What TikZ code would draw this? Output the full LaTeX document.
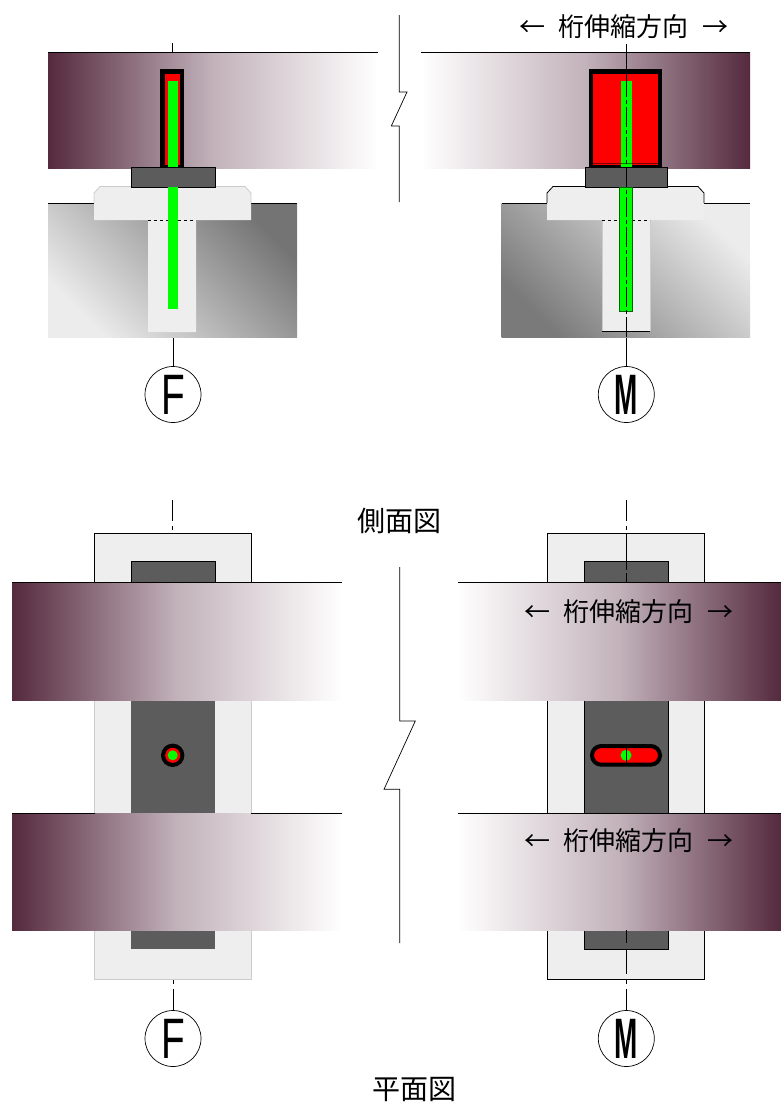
\documentclass[tikz,border=0pt]{standalone}
\usepackage{fontspec}
\setmainfont{Liberation Sans}
\newfontfamily\jpfont{Noto Sans CJK JP}
\usetikzlibrary{positioning}
\definecolor{girderdark}{HTML}{552A3E}
\definecolor{girdermid}{HTML}{C2B2BA}
\definecolor{plategray}{HTML}{5C5C5C}
\definecolor{padgray}{HTML}{EEEEEE}
\definecolor{boltgreen}{HTML}{00FF00}
\definecolor{pierdark}{HTML}{747474}
\definecolor{pierlight}{HTML}{ECECEC}
\tikzset{
  girderL/.style={left color=girderdark, right color=white, middle color=girdermid, draw=none},
  girderR/.style={left color=white, right color=girderdark, middle color=girdermid, draw=none},
  pier/.style={top color=pierdark, bottom color=pierlight, shading angle=-45, draw=none},
  pierM/.style={top color=pierlight, bottom color=pierdark!50!gray, shading angle=-45, draw=none},
  pad/.style={fill=padgray, draw=none},
  plate/.style={fill=plategray, draw=none},
  bolt/.style={fill=boltgreen, draw=none},
  hole/.style={fill=red, draw=black, line width=4.5pt},
  thin line/.style={draw=black, line width=0.8pt},
  faint line/.style={draw=black!20, line width=0.8pt},
  axis line/.style={draw=black, line width=0.7pt},
  center line/.style={draw=black, line width=0.7pt, dash pattern=on 20pt off 3pt on 4pt off 3pt},
  mark circle/.style={circle, draw=black, line width=0.7pt, minimum size=56pt, inner sep=0pt},
  dir label/.style={font=\jpfont\fontsize{26}{26}\selectfont, inner sep=0pt},
  view label/.style={font=\jpfont\fontsize{28}{28}\selectfont, inner sep=0pt},
}
\newcommand{\marktext}[2]{\scalebox{#1}[1]{\fontsize{57}{57}\selectfont #2}}
\newcommand{\dirtext}{←\hspace{14pt}桁伸縮方向\hspace{14pt}→}
\begin{document}
\begin{tikzpicture}[x=1pt,y=-1pt]
\useasboundingbox (0,0) rectangle (781,1104);

% side view, F
\fill[girderL] (48,52) rectangle (378,168);
\draw[thin line] (48,52) -- (378,52);
\fill[pier] (48,203) rectangle (297,337);
\draw[thin line] (48,203) -- (94,203) (251,203) -- (297,203);
\fill[pad] (94,193) -- (100,186.5) -- (245,186.5) -- (251,193) -- (251,220) -- (196,220) -- (196,332) -- (148,332) -- (148,220) -- (94,220) -- cycle;
\draw[faint line] (94,203) -- (94,193) -- (100,186.5) -- (245,186.5) -- (251,193) -- (251,203);
\draw[thin line, dashed] (148,220) -- (196,220);
\draw[hole] (162.3,71.3) rectangle (182,167);
\fill[bolt] (168,81) rectangle (178,309);
\draw[plate, draw=black, line width=0.6pt] (131,167) rectangle (215,187);
\fill[bolt] (168,187) rectangle (178,220);

% side view, M
\fill[girderR] (421,52) rectangle (750,168);
\draw[thin line] (421,52) -- (750,52);
\fill[pierM] (501.5,203) rectangle (750,337);
\draw[thin line] (501.5,203) -- (547,203) (704,203) -- (750,203);
\fill[pad] (547,193) -- (553,186.5) -- (698,186.5) -- (704,193) -- (704,220) -- (650,220) -- (650,331) -- (602,331) -- (602,220) -- (547,220) -- cycle;
\draw[thin line] (547,203) -- (547,193) -- (553,186.5) -- (698,186.5) -- (704,193) -- (704,203);
\draw[faint line] (602,220) -- (602,331) (650,331) -- (650,220);
\draw[thin line] (602,331) -- (650,331);
\draw[thin line, dashed] (602,220) -- (650,220);
\draw[hole] (591.2,71.3) rectangle (660.2,167);
\fill[bolt] (620.7,81) rectangle (632,167);
\draw[black, opacity=0.5, line width=1pt] (591,163) -- (660,163);
\draw[plate, draw=black, line width=0.6pt] (585,167) rectangle (667.5,187);
\draw[bolt, draw=black!60!boltgreen, line width=0.7pt] (619.5,187) rectangle (632.5,311);

% plan view, F
\fill[pad] (94.5,533) rectangle (251,979);
\draw[faint line] (94.5,582) -- (94.5,979) -- (251,979) -- (251,582);
\draw[plate, draw=black, line width=0.6pt] (131,561.5) rectangle (215,640);
\fill[plate] (131,640) rectangle (215,949);
\draw[thin line] (94.5,582) -- (94.5,533) -- (251,533) -- (251,582);
\fill[girderL] (12,582) rectangle (342,700);
\draw[thin line] (12,582) -- (342,582);
\fill[girderL] (12,813) rectangle (342,930);
\draw[thin line] (12,813) -- (94.5,813) (251,813) -- (342,813);
\fill[black] (172.7,755.3) circle [radius=11.7];
\fill[red] (172.7,755.3) circle [radius=7.5];
\fill[boltgreen] (172.7,755.3) circle [radius=5];

% plan view, M
\fill[pad] (547.5,533) rectangle (704.5,979);
\draw[plate, draw=black, line width=0.6pt] (584.5,561.5) rectangle (668,949);
\draw[thin line] (547.5,582) -- (547.5,533) -- (704.5,533) -- (704.5,582);
\draw[thin line] (547.5,700) -- (547.5,813) (704.5,700) -- (704.5,813);
\draw[thin line] (547.5,930) -- (547.5,979) -- (704.5,979) -- (704.5,930);
\fill[girderR] (458,582) rectangle (781,700);
\draw[thin line] (458,582) -- (781,582);
\fill[girderR] (458,813) rectangle (781,930);
\draw[thin line] (458,813) -- (781,813);
\draw[hole, line width=4pt, rounded corners=9.3pt] (592,746) rectangle (660,764.7);
\fill[boltgreen] (626,755.3) circle [radius=5.5];

% axes and marks
\node[mark circle] (markF1) at (173,394.5) {\marktext{0.68}{F}};
\node[mark circle] (markM1) at (626.3,394.5) {\marktext{0.49}{\bfseries M}};
\node[mark circle] (markF2) at (173,1038.5) {\marktext{0.68}{F}};
\node[mark circle] (markM2) at (626.3,1038.5) {\marktext{0.49}{\bfseries M}};
\coordinate (topF1) at (172.5,43);
\coordinate (topM1) at (626.3,44);
\draw[axis line] (topF1) -- (172.5,52);
\draw[axis line] (markF1.north) -- (173,338);
\draw[axis line] (topM1) -- (626.3,77);
\draw[center line] (626.3,77) -- (626.3,338);
\draw[axis line] (markM1.north) -- (626.3,338);
\draw[axis line, dash pattern=on 21pt off 5pt on 4pt off 3pt] (172.5,500) -- (172.5,533);
\draw[axis line, dash pattern=on 21pt off 5pt on 4pt off 3pt on 37pt off 3pt on 9pt] (626.3,500) -- (626.3,582);
\draw[axis line] (626.3,746) -- (626.3,765);
\draw[axis line, dash pattern=on 13pt off 7pt on 24pt off 5pt on 5pt off 5pt] (626.3,930) -- (626.3,989);
\draw[axis line, dash pattern=on 4pt off 5pt] (173,980) -- (173,989);
\draw[axis line] (markF2.north) -- (173,989);
\draw[axis line] (markM2.north) -- (626.3,989);

% break lines
\draw[axis line] (399.3,15) -- (399.3,92) -- (407,92) -- (391.3,126) -- (399.3,126) -- (399.3,202);
\draw[axis line] (399.7,567) -- (399.7,721) -- (415.3,721) -- (384,789.3) -- (399.7,789.3) -- (399.7,943);

% labels
\node[dir label] (dirtop) at (624,27) {\dirtext};
\node[dir label] (dirplan1) at (629,612) {\dirtext};
\node[dir label] (dirplan2) at (629,841) {\dirtext};
\node[view label] (sideview) at (399,521) {側面図};
\node[view label] (planview) at (414.5,1090) {平面図};
\end{tikzpicture}
\end{document}
